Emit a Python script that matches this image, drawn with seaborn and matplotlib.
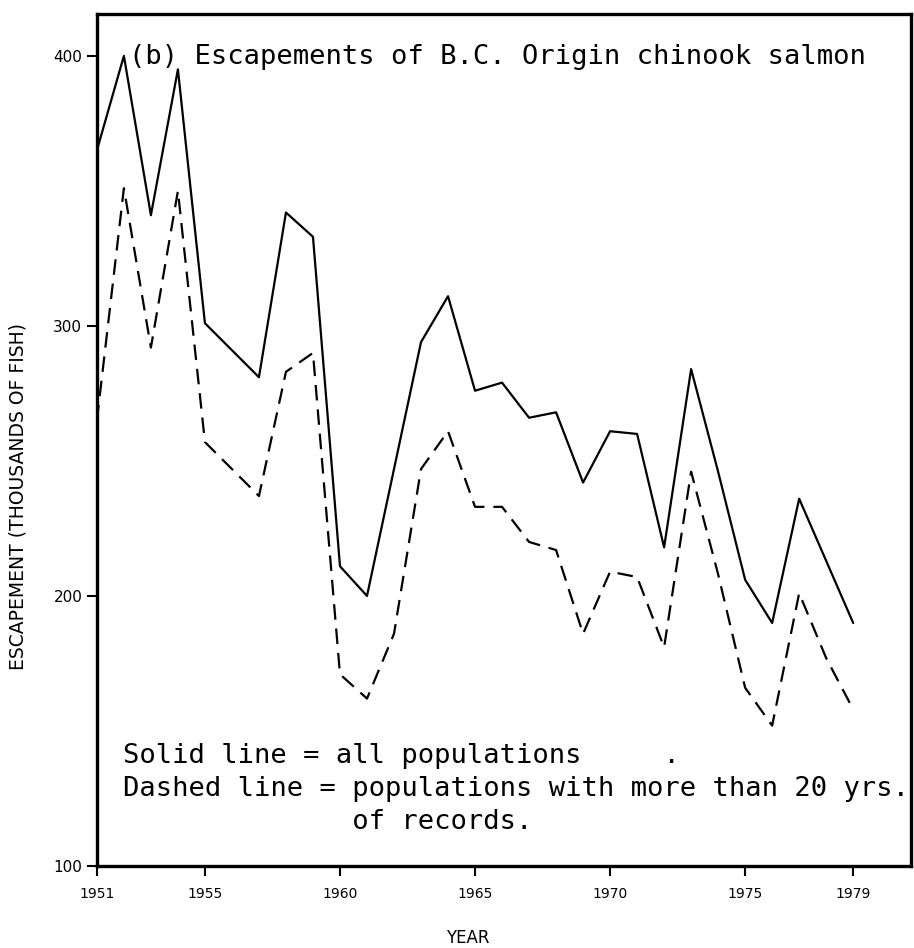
import numpy as np
import pandas as pd
import matplotlib
matplotlib.use("Agg")
import matplotlib.pyplot as plt
import seaborn as sb

years = list(range(1951, 1980))
# thousands of fish
all_pops = [365, 400, 341, 395, 301, 291, 281, 342, 333, 211, 200, 247, 294, 311,
            276, 279, 266, 268, 242, 261, 260, 218, 284, 246, 206, 190, 236, 213, 190]
long_pops = [265, 351, 292, 350, 257, 247, 237, 283, 290, 171, 162, 186, 247, 261,
             233, 233, 220, 217, 186, 209, 207, 181, 246, 208, 166, 152, 201, 177, 158]
xticks = [1951, 1955, 1960, 1965, 1970, 1975, 1979]
yticks = [100, 200, 300, 400]

df = pd.DataFrame({"year": years, "all": all_pops, "long": long_pops})

sb.set_style("ticks")
plt.rcParams.update({"text.color": "black", "axes.labelcolor": "black"})
fig = plt.figure(figsize=(9.14, 9.48), dpi=100)
ax = fig.add_axes([0.106, 0.0865, 0.891, 0.899])

sb.lineplot(data=df, x="year", y="all", ax=ax, color="black", lw=1.6)
sb.lineplot(data=df, x="year", y="long", ax=ax, color="black", lw=1.6,
            dashes=False, linestyle=(0, (7, 4)))

ax.set_xlim(1951, 1981.15)
ax.set_ylim(100, 415.6)
ax.set_xticks(xticks)
ax.set_yticks(yticks)
ax.tick_params(axis="both", direction="out", length=7, width=1.5, colors="black")
ax.tick_params(axis="x", pad=8, labelsize=10)
ax.tick_params(axis="y", labelsize=11)
for s in ax.spines.values():
    s.set_linewidth(2.4)
    s.set_color("black")

ax.set_xlabel("YEAR", fontsize=12)
ax.set_ylabel("ESCAPEMENT (THOUSANDS OF FISH)", fontsize=13.5)
ax.xaxis.set_label_coords(0.455, -0.074)
ax.yaxis.set_label_coords(-0.085, 0.433)

mono = "DejaVu Sans Mono"
ax.text(0.04, 0.965, "(b) Escapements of B.C. Origin chinook salmon",
        transform=ax.transAxes, family=mono, fontsize=19.5, va="top", ha="left")
ax.text(0.032, 0.036,
        "Solid line = all populations     .\n"
        "Dashed line = populations with more than 20 yrs.\n"
        "              of records.",
        transform=ax.transAxes, family=mono, fontsize=19.5, va="bottom", ha="left",
        linespacing=1.36)

plt.savefig("out.png", dpi=100)
